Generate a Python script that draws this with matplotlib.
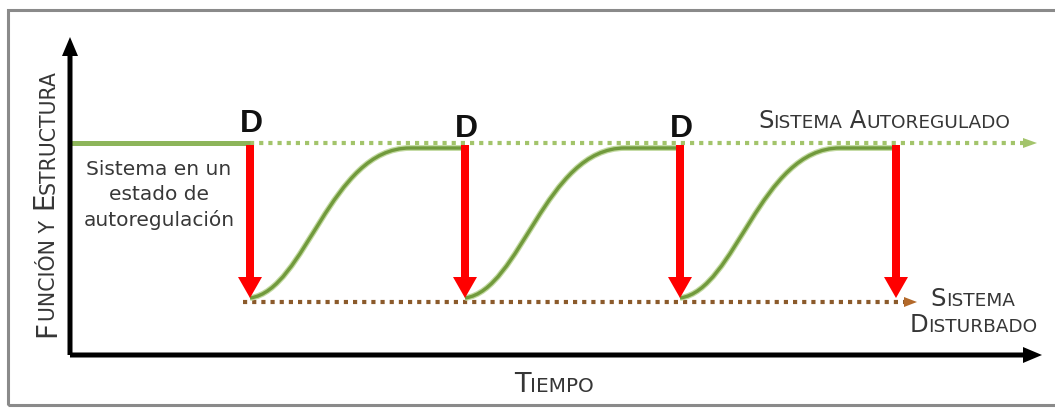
import numpy as np
import matplotlib.pyplot as plt
from matplotlib.path import Path
from matplotlib.patches import PathPatch, Rectangle
from matplotlib.transforms import ScaledTranslation

# diagram values (time units on x, function/structure level on y)
disturbance_t = [18.0, 39.5, 61.0, 82.6]
d_label_y = [22.3, 21.8, 21.8]
high_level = 21.2       # self-regulated system
plateau_level = 20.7    # recovered level of the green curve
low_level = 5.3         # disturbed system
arrow_top = 21.0
arrow_tip = 5.7
recovery_span = 16.0
time_end = 97.2
axis_top = 31.8
green_end = 96.7
brown_end = 84.7

fig = plt.figure(figsize=(10.55, 4.09), dpi=100)
ax = fig.add_axes([0, 0, 1, 1])
ax.set_xlim(-7, 98.5)
ax.set_ylim(-5.4, 35.5)
ax.axis('off')

# outer frame
ax.add_patch(Rectangle((-6.2, -5.0), 110, 39.5, fill=False, ec='#8a8a8a', lw=2.2, zorder=0))

# axes with arrow heads
ax.arrow(0, 0, 0, axis_top, width=0.5, head_width=1.6, head_length=1.9,
         length_includes_head=True, color='black', lw=0, zorder=5)
ax.arrow(0, 0, time_end, 0, width=0.5, head_width=1.6, head_length=1.9,
         length_includes_head=True, color='black', lw=0, zorder=5)

# solid green before first disturbance
ax.plot([0, disturbance_t[0]], [high_level, high_level], color='#8db55a', lw=3.6,
        solid_capstyle='butt', zorder=3)

# dotted reference lines
dots = (0, (1, 1.2))
ax.plot([disturbance_t[0], green_end - 1.3], [high_level, high_level], ls=dots, lw=3,
        color='#a3c46b', zorder=2)
ax.arrow(green_end - 1.4, high_level, 1.4, 0, width=0.01, head_width=1.0, head_length=1.4,
         length_includes_head=True, color='#a3c46b', lw=0, zorder=2)
ax.plot([disturbance_t[0] - 0.7, brown_end - 1.1], [low_level, low_level], ls=dots, lw=3,
        color='#8b5a2b', zorder=2)
ax.arrow(brown_end - 1.3, low_level, 1.3, 0, width=0.01, head_width=1.0, head_length=1.3,
         length_includes_head=True, color='#b3692a', lw=0, zorder=2)

# recovery curves
for i in range(3):
    t0 = disturbance_t[i]
    t1 = disturbance_t[i + 1]
    rise = plateau_level - arrow_tip
    verts = [(t0, arrow_tip),
             (t0 + 0.35 * recovery_span, arrow_tip + 0.05 * rise),
             (t0 + 0.5 * recovery_span, plateau_level),
             (t0 + recovery_span, plateau_level),
             (t1, plateau_level)]
    codes = [Path.MOVETO, Path.CURVE4, Path.CURVE4, Path.CURVE4, Path.LINETO]
    p = Path(verts, codes)
    ax.add_patch(PathPatch(p, fill=False, ec='#c2d9a0', lw=4.2, zorder=3))
    ax.add_patch(PathPatch(p, fill=False, ec='#719a3c', lw=2.4, zorder=3))

# disturbance arrows
for t in disturbance_t:
    ax.arrow(t, arrow_top, 0, arrow_tip - arrow_top, width=0.8, head_width=2.4,
             head_length=2.1, length_includes_head=True, fc='#ff0000', ec='none', zorder=4)

for t, y in zip(disturbance_t, d_label_y):
    ax.text(t + 0.1, y, 'D', fontsize=23, fontweight='bold', family='Liberation Sans',
            color='#111111', ha='center', va='baseline', zorder=6)

ax.text(8.9, 19.5, 'Sistema en un\nestado de\nautoregulación', fontsize=14.5,
        color='#383838', ha='center', va='top', linespacing=1.4)


def small_caps(x, y, text, size, ratio=0.74, rotation=0, ha='left', color='#363636'):
    # split into runs of capitals (big) and lower case (small); spaces go with the next run
    kinds = []
    for k, ch in enumerate(text):
        if ch == ' ':
            nxt = text[k + 1:].lstrip()
            kinds.append(nxt[0].isupper() if nxt else False)
        else:
            kinds.append(ch.isupper())
    runs = []
    for ch, big in zip(text, kinds):
        if runs and runs[-1][1] == big:
            runs[-1][0] += ch
        else:
            runs.append([ch, big])
    texts = []
    for s, big in runs:
        texts.append(ax.text(x, y, s.upper(), fontsize=size if big else size * ratio,
                             rotation=rotation, rotation_mode='anchor', ha='left',
                             va='baseline', color=color))
    r = fig.canvas.get_renderer()
    widths = []
    for t in texts:
        bb = t.get_window_extent(r)
        widths.append(bb.height if rotation == 90 else bb.width)
    total = sum(widths)
    off = {'left': 0, 'center': -total / 2, 'right': -total}[ha]
    for t, w in zip(texts, widths):
        dx, dy = (0, off) if rotation == 90 else (off, 0)
        t.set_transform(ax.transData + ScaledTranslation(dx / fig.dpi, dy / fig.dpi,
                                                         fig.dpi_scale_trans))
        off += w


small_caps(68.8, 22.7, 'Sistema Autoregulado', 17.5, ratio=0.76)
small_caps(90.3, 4.9, 'Sistema', 17.5, ratio=0.76, ha='center')
small_caps(90.3, 2.3, 'Disturbado', 17.5, ratio=0.76, ha='center')
small_caps(48.4, -3.7, 'Tiempo', 19.5, ha='center')
small_caps(-1.5, 15.15, 'Función y Estructura', 20, ratio=0.74, rotation=90, ha='center')

fig.savefig('out.png', dpi=100)
